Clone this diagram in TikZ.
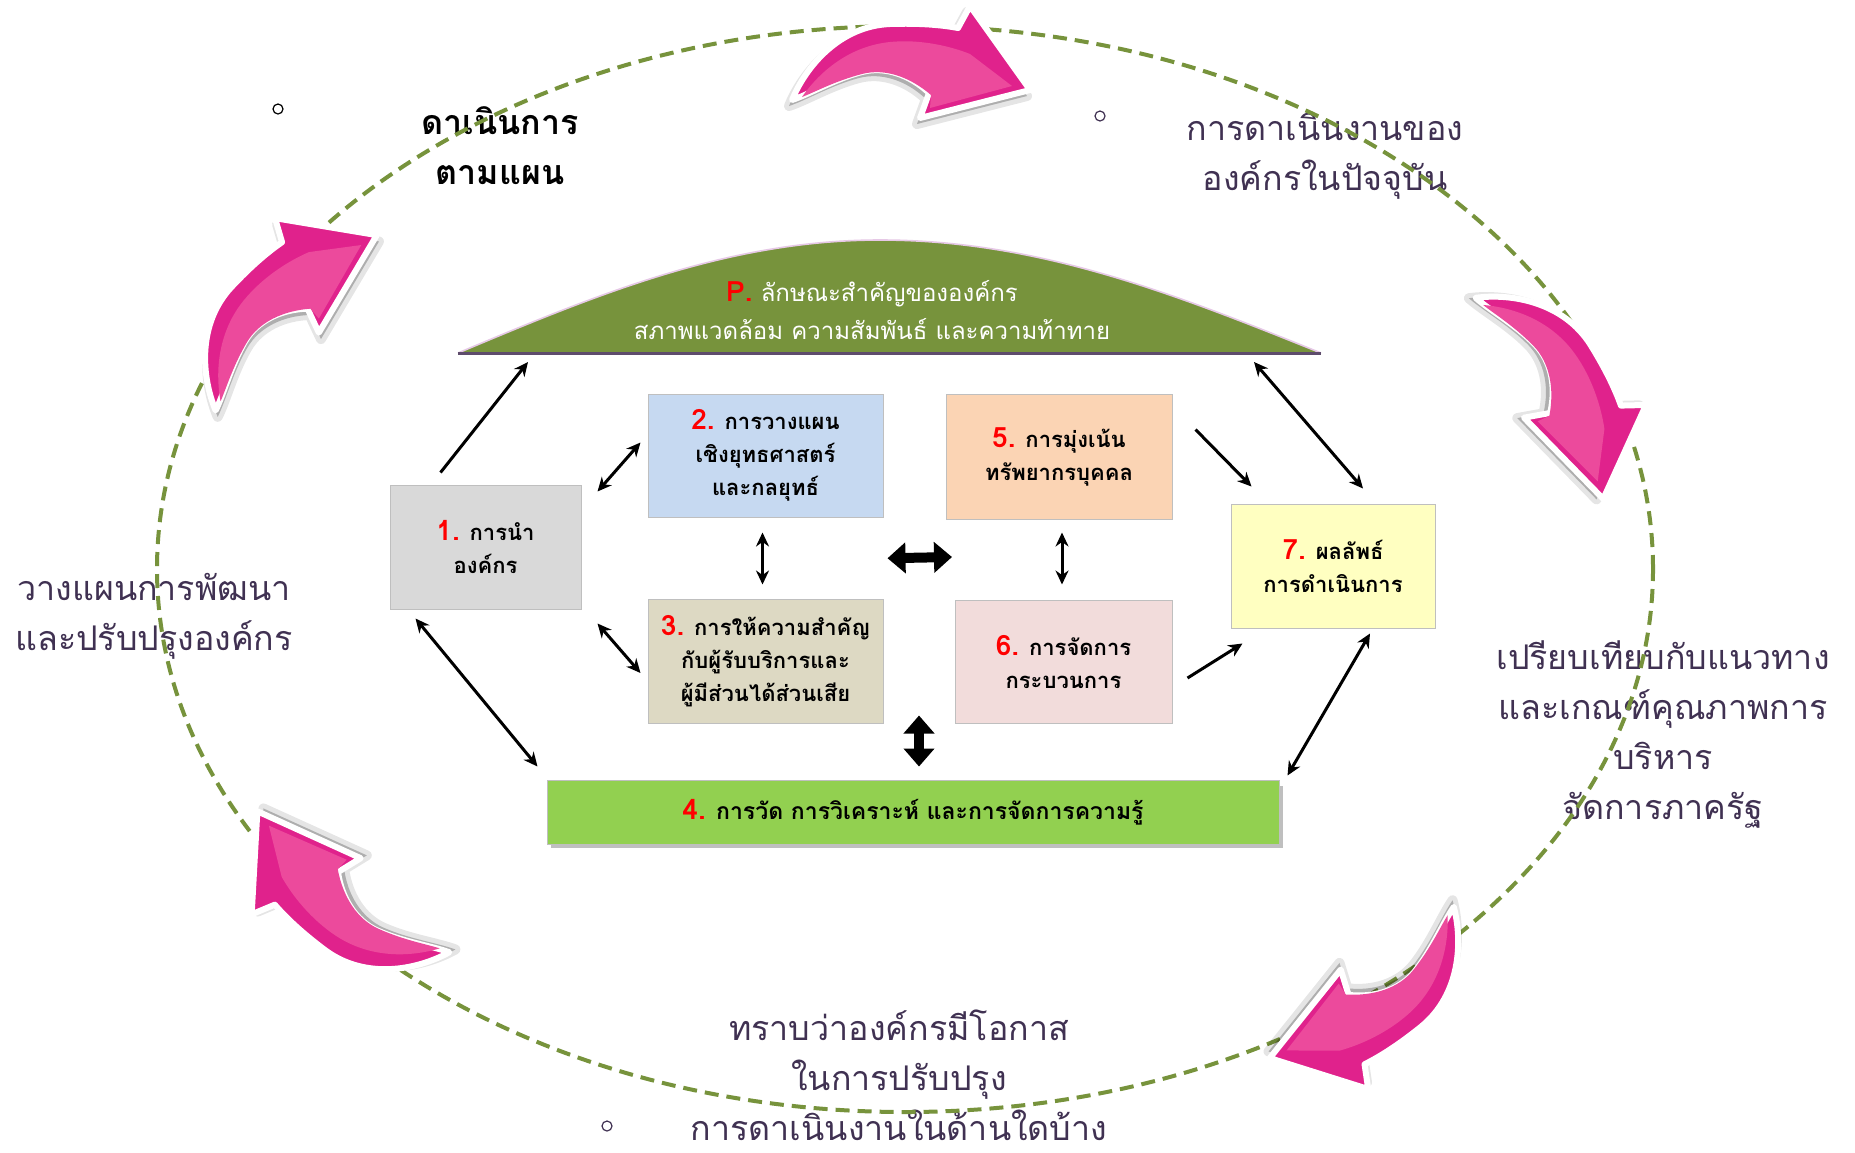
\documentclass[tikz,border=0pt]{standalone}
\usepackage{fontspec}
\setmainfont{Loma}[Script=Thai]
\usetikzlibrary{arrows.meta,calc}
\definecolor{olive}{HTML}{77933C}
\definecolor{labpurple}{HTML}{403152}
\definecolor{cA}{HTML}{D9D9D9}
\definecolor{cB}{HTML}{C6D9F1}
\definecolor{cC}{HTML}{DDD9C3}
\definecolor{cE}{HTML}{FBD4B4}
\definecolor{cF}{HTML}{F2DCDB}
\definecolor{cG}{HTML}{FFFFC1}
\definecolor{cD}{HTML}{92D050}
\definecolor{pinkdark}{HTML}{E0228C}
\definecolor{pinklight}{HTML}{EC4A9C}
\definecolor{hillline}{HTML}{5E4C6C}
\definecolor{hilltop}{HTML}{E6C8E6}
\newcommand{\rnum}[1]{{\color{red}\bfseries\fontsize{14}{16}\selectfont #1}}
\newcommand{\pinkpath}[1]{\path[#1] (-118,34) .. controls (-104,0) and (-70,-40) .. (-20,-42) .. controls (10,-43) and (32,-41) .. (48,-38) -- (60,-60) -- (120,24) -- (10,52) -- (19,27) .. controls (0,9) and (-25,0) .. (-48,6) .. controls (-75,13) and (-100,28) .. (-118,34) -- cycle;}
\newcommand{\pinkhl}[1]{\path[#1] (-108,31) .. controls (-90,5) and (-60,-20) .. (-20,-24) .. controls (10,-27) and (40,-20) .. (60,-12) -- (102,20) -- (20,42) -- (21,29) .. controls (0,11) and (-25,2) .. (-48,8) .. controls (-75,15) and (-95,26) .. (-108,31) -- cycle;}
\newcommand{\pinkarrow}[3]{\begin{scope}[shift={(#1,#2)},rotate=#3]
 \pinkpath{fill=black,draw=black,line width=5pt,line join=round,opacity=0.10,shift={(-3,6)}}
 \pinkpath{fill=black,opacity=0.15,shift={(-3,6)}}
 \pinkpath{draw=white,line width=3pt,line join=round,fill=pinkdark}
 \pinkhl{fill=pinklight}
\end{scope}}
\begin{document}
\begin{tikzpicture}[x=0.5pt,y=-0.5pt,
  boxnode/.style={draw=black!25, line width=0.5pt, inner sep=0pt, align=center,
     font=\fontsize{11}{16.5}\selectfont\bfseries},
  lab/.style={text=labpurple, inner sep=0pt, align=center, font=\fontsize{17}{25}\selectfont},
  both/.style={line width=1.5pt, {Stealth[length=7pt,width=6.5pt]}-{Stealth[length=7pt,width=6.5pt]}},
  oneway/.style={line width=1.5pt, -{Stealth[length=7pt,width=6.5pt]}},
  thick/.style={line width=5pt, {Triangle[length=9pt,width=15pt]}-{Triangle[length=9pt,width=15pt]}}]
\useasboundingbox (0,0) rectangle (1855,1152);
\fill[white] (0,0) rectangle (1855,1152);
% outer labels
\node[lab, text=black, font=\fontsize{17}{25}\selectfont\bfseries] (lplan) at (500,146) {ดาเนินการ\\ตามแผน};
\node[lab] (lnow) at (1325,156) {การดาเนินงานของ\\องค์กรในปัจจุบัน};
\node[lab] (ldev) at (154,616) {วางแผนการพัฒนา\\และปรับปรุงองค์กร};
\node[lab] (lcmp) at (1663,734) {เปรียบเทียบกับแนวทาง\\และเกณฑ์คุณภาพการ\\บริหาร\\จัดการภาครัฐ};
\node[lab] (lopp) at (899,1075) {ทราบว่าองค์กรมีโอกาส\\ในการปรับปรุง\\การดาเนินงานในด้านใดบ้าง};
\draw[black, line width=0.6pt] (278,109) circle[radius=2.5pt];
\draw[labpurple, line width=0.6pt] (1100,116) circle[radius=2.5pt];
\draw[labpurple, line width=0.6pt] (607,1126) circle[radius=2.5pt];
% dashed cycle
\draw[olive, line width=2pt, dash pattern=on 7pt off 4pt] (905,569) ellipse [x radius=374pt, y radius=271.5pt];
% pink arrows
\pinkarrow{910}{66}{0}
\pinkarrow{1564}{383}{-60}
\pinkarrow{1380}{1005}{-143}
\pinkarrow{336}{905}{141.3}
\pinkarrow{275}{303}{45}
% hill
\fill[olive] (458,353) sin (880,240) cos (1321,353) -- cycle;
\draw[hilltop, line width=0.8pt] (458,353) sin (880,240) cos (1321,353);
\draw[hillline, line width=1.5pt] (458,353) -- (1321,353);
\node[text=white, align=center, inner sep=0pt, font=\fontsize{12}{19}\selectfont] (hill) at (872,310) {\rnum{P.} ลักษณะสำคัญขององค์กร\\สภาพแวดล้อม ความสัมพันธ์ และความท้าทาย};
\coordinate (hL) at (528,362);
\coordinate (hR) at (1254,362);
% boxes
\node[boxnode, fill=cA, minimum width=95.5pt, minimum height=62pt] (b1) at (485.5,547) {\rnum{1.} การนำ\\องค์กร};
\node[boxnode, fill=cB, minimum width=117.5pt, minimum height=61.5pt] (b2) at (765.5,455.5) {\rnum{2.} การวางแผน\\เชิงยุทธศาสตร์\\และกลยุทธ์};
\node[boxnode, fill=cC, minimum width=117.5pt, minimum height=62pt] (b3) at (765.5,661) {\rnum{3.} การให้ความสำคัญ\\กับผู้รับบริการและ\\ผู้มีส่วนได้ส่วนเสีย};
\node[boxnode, fill=cE, minimum width=113pt, minimum height=62.5pt] (b5) at (1059,456.5) {\rnum{5.} การมุ่งเน้น\\ทรัพยากรบุคคล};
\node[boxnode, fill=cF, minimum width=108.5pt, minimum height=61.5pt] (b6) at (1063.5,661.5) {\rnum{6.} การจัดการ\\กระบวนการ};
\node[boxnode, fill=cG, minimum width=102pt, minimum height=62pt] (b7) at (1333,566) {\rnum{7.} ผลลัพธ์\\การดำเนินการ};
\fill[black!25] (551,786) rectangle (1283,848);
\node[boxnode, fill=cD, minimum width=366pt, minimum height=32pt, font=\fontsize{11.5}{19}\selectfont\bfseries] (b4) at (913,812) {\rnum{4.} การวัด การวิเคราะห์ และการจัดการความรู้};
% connectors
\draw[oneway] ($(b1.north)+(-45,-12)$) -- (hL);
\draw[both] ($(b1.north east)+(16,7)$) -- ($(b2.west)+(-7,-13)$);
\draw[both] ($(b1.south east)+(16,14)$) -- ($(b3.west)+(-7,12)$);
\draw[both] ($(b2.south)+(-3,15)$) -- ($(b3.north)+(-3,-14)$);
\draw[both] ($(b5.south)+(3,13)$) -- ($(b6.north)+(-1.5,-15)$);
\draw[thick] ($(b2.east)!0.5!(b3.east)+(4,0)$) -- ($(b5.west)!0.5!(b6.west)+(2,-2)$);
\draw[thick] ($(b4.north)+(6,-64)$) -- ($(b4.north)+(6,-13)$);
\draw[both] ($(b1.south west)+(26,9)$) -- ($(b4.north west)+(-9,-13)$);
\draw[oneway] ($(b5.east)+(23,-27)$) -- ($(b7.north west)+(21,-17)$);
\draw[both] (hR) -- ($(b7.north)+(30,-15)$);
\draw[oneway] ($(b6.east)+(15,16.5)$) -- ($(b7.south west)+(12,15)$);
\draw[both] ($(b4.north east)+(8,-4)$) -- ($(b7.south)+(37,5)$);
\end{tikzpicture}
\end{document}
